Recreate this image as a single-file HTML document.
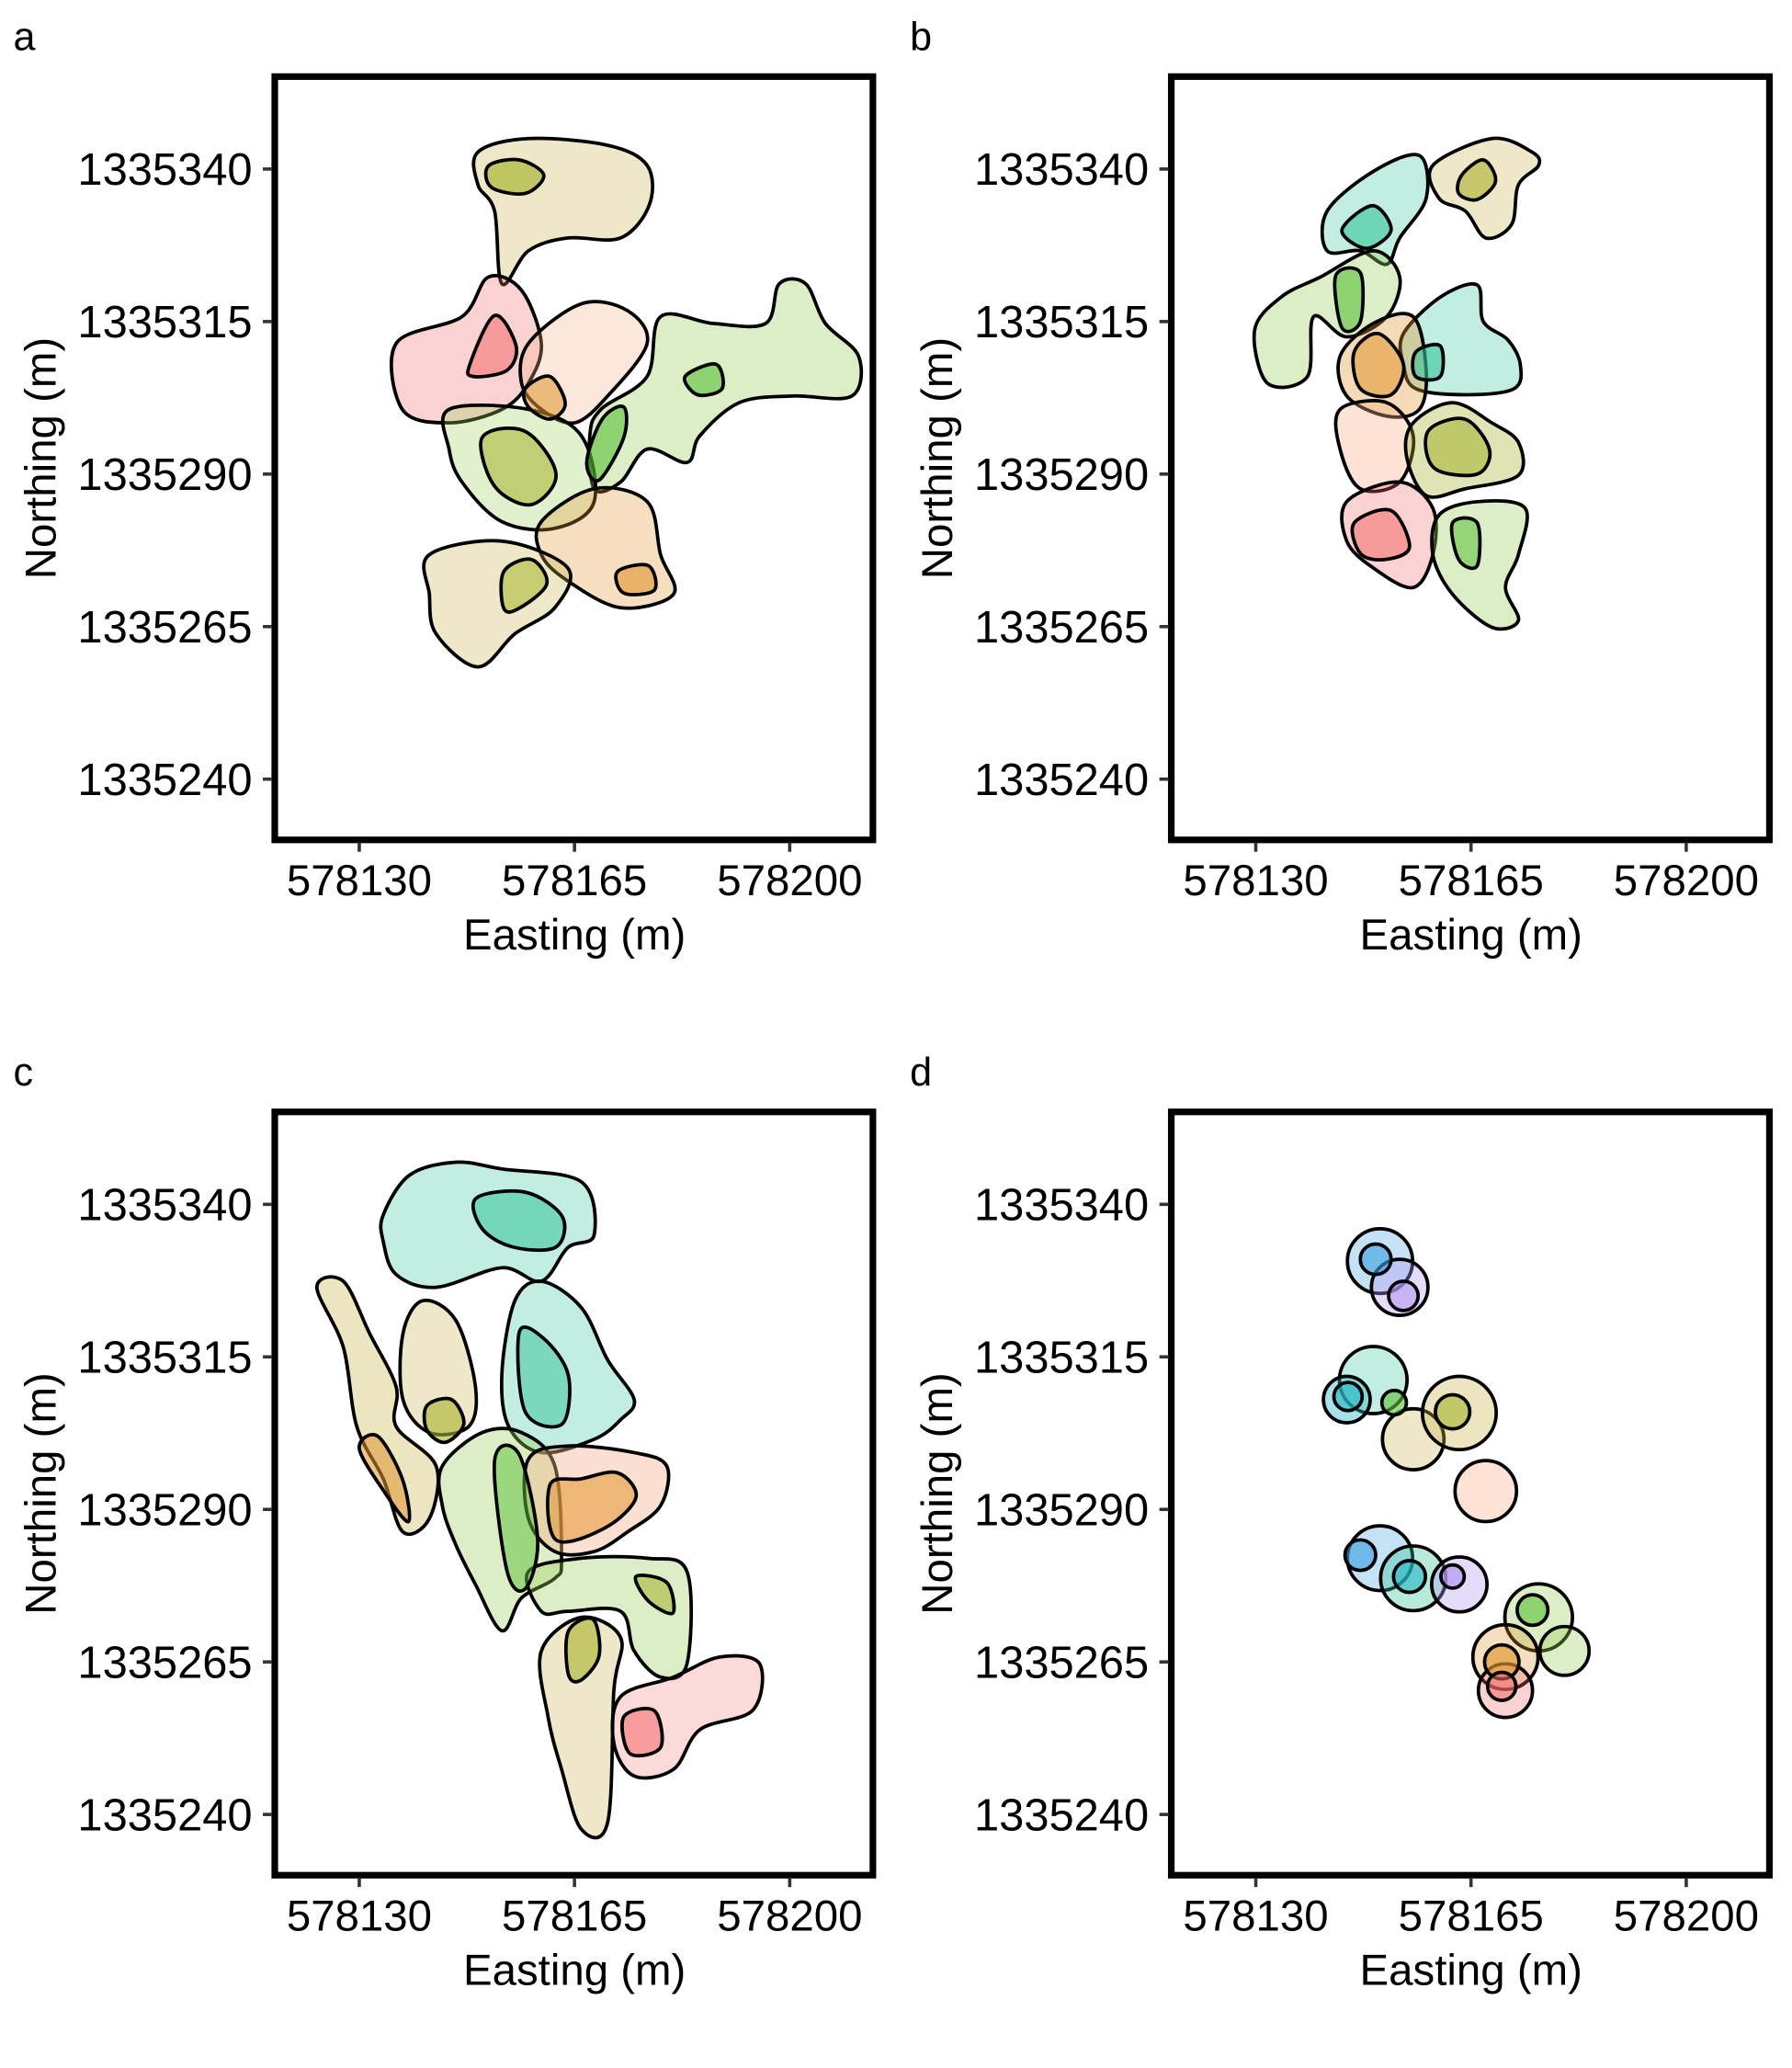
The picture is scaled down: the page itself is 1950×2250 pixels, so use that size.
<!DOCTYPE html>
<html><head><meta charset="utf-8"><style>
html,body{margin:0;padding:0;background:#fff}
svg{display:block}
text{font-family:"Liberation Sans",Arial,sans-serif;fill:#000}
</style></head><body>
<svg id="chart" width="1950" height="2250" viewBox="0 0 1357 1566" xmlns="http://www.w3.org/2000/svg"></svg>
<script>
// Data (easting rel. to 578100, northing rel. to 1335200)
const xTicks = [30, 65, 100];
const xTickLabels = ["578130", "578165", "578200"];
const yTicks = [140, 115, 90, 65, 40];
const yTickLabels = ["1335340", "1335315", "1335290", "1335265", "1335240"];
const panelLetters = ["a", "b", "c", "d"];
const COL = {khaki:"#c9b44a",red:"#f26b6b",peach:"#f5b08a",green:"#5cbf3a",lgreen:"#9ccf5a",orange:"#e0962f",teal:"#35c49a",blue:"#3a9ee0",lav:"#b497f0",cyan:"#25b5c5",olive:"#a6b22c"};

const blobsA = [
 {c:"khaki",o:.3,e:[49.3,57.5,70.4,76.8,77.2,72.5,63.9,57.5,53.2,52,49.3],n:[142.8,145,143.9,140.6,134.2,128.7,128.7,126.6,121.2,133.1,137.4]},
 {c:"red",o:.3,e:[36,46.7,51,56.4,59.6,57.5,53.2,44.6,37],n:[111.4,115.8,122.3,120.1,111.4,104.9,100.6,98.4,100.6]},
 {c:"peach",o:.3,e:[57.5,66.1,73.6,76.8,70.4,65,59.6,56.4],n:[111.4,117.9,116.8,111.4,102.8,98.4,100.6,104.9]},
 {c:"lgreen",o:.35,e:[69.3,76.8,79,87.5,96.1,98.3,102.6,105.8,111.2,110.1,100.4,91.8,85.4,83.3,76.8,72.5,68.2,67.5],n:[100.6,106,115.8,114.7,114.7,121.2,121.2,114.7,109.3,102.8,102.8,101.7,96.3,91.9,94.1,88.7,87.6,96.3]},
 {c:"lgreen",o:.3,e:[44.6,57.5,66.1,68.2,61.8,53.2,46.7,44.6],n:[100.6,100.6,96.3,85.5,81.1,82.2,88.7,94.1]},
 {c:"orange",o:.3,e:[59.6,68.2,76.8,79,81.1,72.5,63.9,59.6],n:[82.2,87.6,85.5,76.8,70.3,68.1,72.5,76.8]},
 {c:"khaki",o:.3,e:[41.4,53.2,63.9,61.8,55.3,49.3,42.5,41.4],n:[76.8,79,74.6,68.1,63.8,58.4,63.8,70.3]},
 {c:"olive",o:.65,e:[51,56,60,57,51.5],n:[140.5,141.5,139,136,137]},
 {c:"red",o:.55,e:[48,52,55.5,54,48.5],n:[108,116,111,107,106]},
 {c:"orange",o:.55,e:[57,61,63.5,61,57.5],n:[104,106,101.5,99,101]},
 {c:"green",o:.6,e:[69.5,73,73,69,67],n:[99,101,96,89,92]},
 {c:"olive",o:.55,e:[50,57,62,58,52],n:[96,97,90,85,88]},
 {c:"orange",o:.6,e:[72,77,78,73],n:[74,75,71,70.5]},
 {c:"olive",o:.55,e:[53.5,58,60.5,56,53.5],n:[74,76,72,68,68]},
 {c:"green",o:.6,e:[83,88,89,85],n:[106,108,104,103]}
];
const blobsB = [
 {c:"khaki",o:.3,e:[58.8,68.4,74.9,76,72.7,71.6,67.4,64.1,59.8],n:[140.6,145,142.8,140.6,137.4,130.9,128.7,133.1,135.2]},
 {c:"teal",o:.3,e:[41.6,49.1,56.6,57.7,53.4,51.3,47,41.6],n:[133.1,139.6,142.2,135.2,128.7,124.4,126.6,126.6]},
 {c:"lgreen",o:.35,e:[29.8,34.1,40.5,49.1,53.4,51.3,44.8,39.4,38.4,31.9],n:[113.6,119,122.3,126.6,122.3,115.8,112.5,115.8,106,104.9]},
 {c:"teal",o:.3,e:[54,60,66,67,71,73,72,64,56,54],n:[113,119,121,115,112,108,104,103,104,108]},
 {c:"orange",o:.35,e:[43.7,49.1,55.6,57.7,56.6,51.3,44.8],n:[109.3,114.7,115.8,107.1,100.6,99.5,102.8]},
 {c:"peach",o:.35,e:[43.7,51.3,55.6,53.4,47,43.7],n:[100.6,101.7,96.3,88.7,87.6,94.1]},
 {c:"olive",o:.35,e:[55.6,62,68.4,72.7,72.7,64.1,57.7,54.5],n:[98.4,101.7,98.4,95.2,89.8,87.6,86.5,93]},
 {c:"red",o:.3,e:[44.8,53.4,58.8,58.8,55.6,49.1,44.8],n:[85.5,88.7,84.4,76.8,71.4,74.6,79]},
 {c:"lgreen",o:.35,e:[59.8,66.3,73.8,72.7,70.6,72.7,68.4,62,58.8],n:[83.3,85.5,84.4,76.8,71.4,66,64.9,70.3,76.8]},
 {c:"olive",o:.6,e:[63.5,67,69,66,63],n:[139,141.5,138,135,136]},
 {c:"teal",o:.6,e:[44,49,52,48],n:[130,134,130,127]},
 {c:"green",o:.6,e:[43,47,47,44],n:[122.5,123,115,114]},
 {c:"teal",o:.6,e:[56,60,60,56],n:[110,111,106,106]},
 {c:"orange",o:.55,e:[46,50,54,52,47],n:[110,113,108,103,104]},
 {c:"olive",o:.55,e:[58,64,68,66,59],n:[97,99,94,90,91]},
 {c:"red",o:.55,e:[46,52,55,51,47],n:[82,84,78,76,77]},
 {c:"green",o:.55,e:[62,66,66,63],n:[82,82,75,76]}
];
const blobsC = [
 {c:"teal",o:.3,e:[33.9,38.2,45.7,53.2,66.1,68.2,63.9,59.6,53.2,42.5,36,33.9],n:[138.3,144.8,146.9,145.8,143.7,135,132.9,127.4,129.6,126.4,128.5,133.9]},
 {c:"khaki",o:.35,e:[23.1,27.4,31.7,36,36,42.5,41.4,37.1,33.9,29.6,27.4],n:[126.4,127.4,118.8,110.1,103.6,97.1,88.5,86.3,95,103.6,116.6]},
 {c:"khaki",o:.3,e:[40.3,45.7,48.9,47.8,41.4,37.1,37.1],n:[124.2,121,110.1,103.6,102.6,108,118.8]},
 {c:"teal",o:.3,e:[55.3,59.6,66.1,70.4,74.7,72.5,68.2,59.6,54.3,53.2],n:[124.2,127.4,123.1,114.5,108,104.7,101.5,99.3,103.6,112.3]},
 {c:"lgreen",o:.35,e:[43.5,50,56.4,61.8,62.9,61.8,56.4,53.2,48.9,45.7,43.5],n:[97.1,102.6,102.6,97.1,82,78.7,75.5,70.1,77.7,84.2,90.6]},
 {c:"peach",o:.4,e:[57.5,63.9,74.7,80,79,73.6,68.2,61.8,57.5],n:[98.2,100.4,99.3,97.1,90.6,86.3,83.1,83.1,88.5]},
 {c:"lgreen",o:.35,e:[57.5,66.1,76.8,83.3,83.3,79,74.7,72.5,63.9,59.6],n:[79.8,82,82,79.8,64.7,62.5,66.8,73.3,73.3,73.3]},
 {c:"khaki",o:.3,e:[59.6,66.1,72.5,71.4,70.4,66.1,62.9,60.7],n:[66.8,72.3,69,60.3,38.7,37.6,47.4,56]},
 {c:"red",o:.25,e:[72.5,81.1,88.6,95.1,94,85.4,81.1,74.7,71.4],n:[59.3,62.5,65.8,64.7,57.1,53.9,47.4,46.3,51.7]},
 {c:"teal",o:.55,e:[49,57,63,62,55,50],n:[141,142,138,133,133,136]},
 {c:"orange",o:.55,e:[30,33,37,38,34],n:[100,102,95,88,93]},
 {c:"olive",o:.6,e:[41,45,47,44,41],n:[107,108,104,101,103]},
 {c:"teal",o:.5,e:[56,60,64,63,57],n:[119,118,112,104,106]},
 {c:"orange",o:.55,e:[61,66,72,75,70,62],n:[94,95,96,92,87,85]},
 {c:"green",o:.5,e:[52,56,59,57,54],n:[98,99,85,77,80]},
 {c:"olive",o:.6,e:[64,68,69,66,64],n:[70,72,66,62,63]},
 {c:"red",o:.55,e:[73,78,79,74],n:[56,57,51,50]},
 {c:"olive",o:.55,e:[75,80,81,77],n:[79,78,73,75]}
];
const circlesD = [
 {c:"blue",o:.3,e:50.2,n:130.7,r:5.3},{c:"lav",o:.35,e:53.4,n:126.4,r:4.6},
 {c:"teal",o:.3,e:49.1,n:111.2,r:5.5},{c:"cyan",o:.4,e:44.8,n:108,r:3.8},
 {c:"khaki",o:.3,e:55.6,n:101.5,r:5},{c:"khaki",o:.35,e:63.1,n:105.8,r:6},
 {c:"peach",o:.35,e:67.4,n:93,r:5},{c:"blue",o:.3,e:50.2,n:82,r:5.3},
 {c:"teal",o:.35,e:55.6,n:78.7,r:5.3},{c:"lav",o:.35,e:63.1,n:77.7,r:4.5},
 {c:"lgreen",o:.35,e:76,n:72.3,r:5.5},{c:"lgreen",o:.35,e:80.2,n:66.8,r:4},
 {c:"orange",o:.3,e:70.6,n:65.8,r:5.3},{c:"red",o:.3,e:70.6,n:60.3,r:4.4},
 {c:"blue",o:.6,e:49.5,n:131,r:2.5},{c:"lav",o:.6,e:54,n:125,r:2.4},
 {c:"cyan",o:.6,e:45,n:108.5,r:2.3},{c:"green",o:.6,e:52.5,n:107.5,r:2},
 {c:"olive",o:.6,e:62,n:106,r:2.8},{c:"blue",o:.6,e:47,n:82.5,r:2.5},
 {c:"cyan",o:.6,e:55,n:79,r:2.6},{c:"lav",o:.7,e:62,n:79,r:1.9},
 {c:"green",o:.6,e:75,n:73.5,r:2.5},{c:"orange",o:.65,e:70,n:65,r:2.8},{c:"red",o:.55,e:70,n:61,r:2.3}
];

const NS = "http://www.w3.org/2000/svg";
const svg = document.getElementById("chart");
function mk(tag, attrs, parent) {
  const el = document.createElementNS(NS, tag);
  for (const k in attrs) el.setAttribute(k, attrs[k]);
  (parent || svg).appendChild(el);
  return el;
}
const panels = [{dx:0,dy:0},{dx:679,dy:0},{dx:0,dy:784},{dx:679,dy:784}];
const XS = 163/35, YS = 115.5/25;
function closedCurve(pts) {
  const n = pts.length; let d = "M" + pts[0][0].toFixed(1) + "," + pts[0][1].toFixed(1);
  for (let i = 0; i < n; i++) {
    const p0 = pts[(i-1+n)%n], p1 = pts[i], p2 = pts[(i+1)%n], p3 = pts[(i+2)%n];
    const c1 = [p1[0]+(p2[0]-p0[0])/6, p1[1]+(p2[1]-p0[1])/6];
    const c2 = [p2[0]-(p3[0]-p1[0])/6, p2[1]-(p3[1]-p1[1])/6];
    d += "C" + c1.map(v=>v.toFixed(1)).join(",") + " " + c2.map(v=>v.toFixed(1)).join(",") + " " + p2[0].toFixed(1) + "," + p2[1].toFixed(1);
  }
  return d + "Z";
}
const allBlobs = [blobsA, blobsB, blobsC, null];
panels.forEach((p, i) => {
  const xS = e => 272 + (e - 30) * XS + p.dx;
  const yS = n => 128 + (140 - n) * YS + p.dy;
  const g = mk("g", {});
  
  
  const lab = mk("text", {x: 10 + p.dx, y: 38 + p.dy, "font-size": 30}, g);
  lab.textContent = panelLetters[i];
  
  
  const blobs = allBlobs[i];
  if (blobs) {
    blobs.forEach(b => {
      const pts = b.e.map((e, k) => [xS(e), yS(b.n[k])]);
      const path = mk("path", {d: closedCurve(pts), fill: COL[b.c], "fill-opacity": b.o, stroke: "#000", "stroke-width": 2.6, "stroke-linejoin": "round"}, g);
      
      
    });
  } else {
    circlesD.forEach(c => {
      const el = mk("ellipse", {cx: xS(c.e), cy: yS(c.n), rx: c.r * XS, ry: c.r * YS, fill: COL[c.c], "fill-opacity": c.o, stroke: "#000", "stroke-width": 2.6}, g);
      
      
    });
  }
  const fr = mk("rect", {x: 208 + p.dx, y: 58 + p.dy, width: 453, height: 578, fill: "none", stroke: "#000", "stroke-width": 5}, g);
  
  
  xTicks.forEach((t, k) => {
    const tk = mk("line", {x1: xS(t), x2: xS(t), y1: 638 + p.dy, y2: 645 + p.dy, stroke: "#333", "stroke-width": 2.5}, g);
    
    
    const tl = mk("text", {x: xS(t), y: 678 + p.dy, "font-size": 33, "text-anchor": "middle", fill: "#1a1a1a"}, g);
    tl.textContent = xTickLabels[k];
    
    
  });
  yTicks.forEach((t, k) => {
    const tk = mk("line", {x1: 199 + p.dx, x2: 206 + p.dx, y1: yS(t), y2: yS(t), stroke: "#333", "stroke-width": 2.5}, g);
    
    
    const tl = mk("text", {x: 191 + p.dx, y: yS(t) + 12, "font-size": 34, "text-anchor": "end", fill: "#1a1a1a"}, g);
    tl.textContent = yTickLabels[k];
    
    
  });
  const xt = mk("text", {x: 435 + p.dx, y: 719 + p.dy, "font-size": 33, "text-anchor": "middle"}, g);
  xt.textContent = "Easting (m)";
  
  
  const yt = mk("text", {x: 0, y: 0, "font-size": 33, "text-anchor": "middle", transform: "translate(" + (42 + p.dx) + "," + (347 + p.dy) + ") rotate(-90)"}, g);
  yt.textContent = "Northing (m)";
  
  
});
</script>
</body></html>
